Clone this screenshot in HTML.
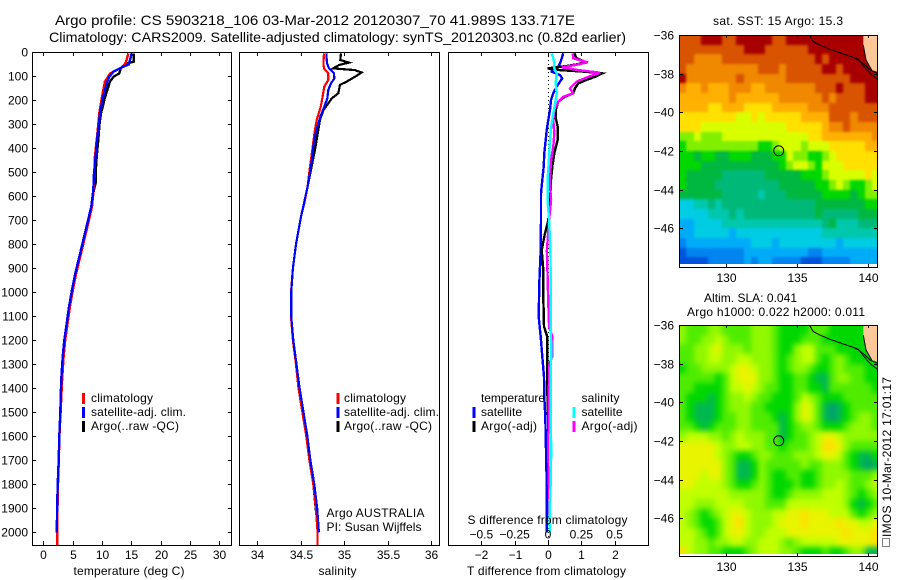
<!DOCTYPE html>
<html lang="en">
<head>
<meta charset="utf-8">
<title>Argo profile CS 5903218_106</title>
<style>
  html, body { margin: 0; padding: 0; background: #fff; }
  svg { display: block; }
  text { font-family: "Liberation Sans", sans-serif; font-size: 12px; fill: #000; }
  .t { font-size: 14px; }
</style>
</head>
<body>
<svg id="fig" xmlns="http://www.w3.org/2000/svg" width="900" height="580" viewBox="0 0 900 580">
  <defs>
    <clipPath id="clipMapA"><rect x="679.5" y="35" width="198" height="232.5"/></clipPath>
    <clipPath id="clipMapB"><rect x="679.5" y="325" width="198" height="232"/></clipPath>
    <clipPath id="clipP1"><rect x="32" y="52" width="200" height="493"/></clipPath>
    <clipPath id="clipP2"><rect x="239" y="52" width="201" height="493"/></clipPath>
    <clipPath id="clipP3"><rect x="448" y="52" width="201" height="493"/></clipPath>
    <filter id="blurSst" filterUnits="userSpaceOnUse" x="650" y="10" width="250" height="280" color-interpolation-filters="sRGB"><feGaussianBlur stdDeviation="1.3"/></filter>
    <filter id="blurSla" filterUnits="userSpaceOnUse" x="650" y="300" width="250" height="280" color-interpolation-filters="sRGB"><feGaussianBlur stdDeviation="3"/></filter>
  </defs>

  <text class="t" x="55" y="25" textLength="520" lengthAdjust="spacingAndGlyphs">Argo profile: CS 5903218_106 03-Mar-2012 20120307_70 41.989S 133.717E</text>
  <text class="t" x="49" y="42" textLength="577" lengthAdjust="spacingAndGlyphs">Climatology: CARS2009. Satellite-adjusted climatology: synTS_20120303.nc (0.82d earlier)</text>

  <g id="mapA" clip-path="url(#clipMapA)"></g>
  <g id="mapB" clip-path="url(#clipMapB)"></g>
  <g id="p1" clip-path="url(#clipP1)"></g>
  <g id="p2" clip-path="url(#clipP2)"></g>
  <g id="p3" clip-path="url(#clipP3)"></g>
  <g id="axes"></g>

  <rect x="32.5" y="52.5" width="199" height="493" fill="none" stroke="#000"/>
  <rect x="239.5" y="52.5" width="200" height="493" fill="none" stroke="#000"/>
  <rect x="448.5" y="52.5" width="200" height="493" fill="none" stroke="#000"/>
  <rect x="679.5" y="35.5" width="198" height="232" fill="none" stroke="#000"/>
  <rect x="679.5" y="325.5" width="198" height="231" fill="none" stroke="#000"/>

  <!-- temperature legend -->
  <rect x="82" y="393" width="3" height="11" fill="#f00"/>
  <rect x="82" y="407" width="3" height="11" fill="#00f"/>
  <rect x="82" y="421" width="3" height="11" fill="#000"/>
  <text x="91" y="402" textLength="62">climatology</text>
  <text x="91" y="416" textLength="95">satellite-adj. clim.</text>
  <text x="91" y="430" textLength="88">Argo(..raw -QC)</text>

  <!-- salinity legend -->
  <rect x="336.5" y="393" width="3" height="11" fill="#f00"/>
  <rect x="336.5" y="407" width="3" height="11" fill="#00f"/>
  <rect x="336.5" y="421" width="3" height="11" fill="#000"/>
  <text x="344" y="402" textLength="62">climatology</text>
  <text x="344" y="416" textLength="95">satellite-adj. clim.</text>
  <text x="344" y="430" textLength="88">Argo(..raw -QC)</text>
  <text x="326.5" y="517" textLength="98">Argo AUSTRALIA</text>
  <text x="326.5" y="531" textLength="95">PI: Susan Wijffels</text>

  <!-- difference legend -->
  <text x="481" y="402" textLength="64">temperature</text>
  <text x="581.5" y="402" textLength="38">salinity</text>
  <rect x="472.5" y="407" width="3" height="11" fill="#00f"/>
  <rect x="472.5" y="421" width="3" height="11" fill="#000"/>
  <rect x="572.5" y="407" width="3" height="11" fill="#0ff"/>
  <rect x="572.5" y="421" width="3" height="11" fill="#f0f"/>
  <text x="481" y="416" textLength="41">satellite</text>
  <text x="481" y="430" textLength="56">Argo(-adj)</text>
  <text x="581.5" y="416" textLength="41">satellite</text>
  <text x="581.5" y="430" textLength="56">Argo(-adj)</text>

  <text x="467.5" y="524" textLength="160">S difference from climatology</text>
  <text x="467" y="575" textLength="159">T difference from climatology</text>
  <text x="129" y="575" text-anchor="middle" textLength="111">temperature (deg C)</text>
  <text x="337.5" y="575" text-anchor="middle" textLength="38">salinity</text>

  <text x="713" y="25" textLength="130">sat. SST: 15 Argo: 15.3</text>
  <text x="704" y="302" textLength="93">Altim. SLA: 0.041</text>
  <text x="687" y="316" textLength="178">Argo h1000: 0.022 h2000: 0.011</text>

  <rect x="882.5" y="538.5" width="7" height="8" fill="none" stroke="#000" stroke-dasharray="1 1"/>
  <text transform="translate(891,537) rotate(-90)" x="0" y="0" textLength="160">IMOS 10-Mar-2012 17:01:17</text>
</svg>

<script>
// ---- Temperature profiles (deg C) ----
const tempClimDepth = [4,32,50,67,88,122,192,253,296,365,435,504,574,643,713,782,852,921,990,1060,1129,1199,1268,1365,1500,1600,1700,1800,1900,2000,2055];
const tempClimValue = [14.5,14.2,13.9,13.1,11.4,10.5,9.95,9.55,9.4,9.1,8.8,8.7,8.55,8.3,7.65,6.97,6.29,5.6,5.04,4.53,4.14,3.73,3.46,3.2,2.95,2.75,2.65,2.5,2.42,2.39,2.39];
const tempSatDepth = [4,50,60,81,102,122,192,253,296,365,435,504,574,643,713,782,852,921,990,1060,1129,1199,1268,1365,1500,1600,1700,1800,1900,2000];
const tempSatValue = [15.06,14.61,13.64,11.94,11.25,10.91,10.12,9.67,9.5,9.15,8.92,8.64,8.52,8.18,7.5,6.82,6.14,5.45,4.89,4.38,3.99,3.58,3.31,3.05,2.9,2.72,2.62,2.45,2.35,2.3];
const tempArgoDepth = [4,39,46,60,67,88,102,122,157,192,227,253,296,365,435,504,546,574,643,713,782,852,921,990,1060,1129,1199,1268,1365,1500,1600,1700,1800,1928];
const tempArgoValue = [15.4,15.4,14.2,13.5,13.2,12.96,11.94,11.37,10.9,10.46,10.12,9.83,9.6,9.38,9.1,8.92,8.92,8.6,8.2,7.52,6.85,6.17,5.48,4.92,4.41,4.02,3.6,3.34,3.08,2.9,2.75,2.62,2.47,2.35];

// ---- Salinity profiles ----
const salClimDepth = [4,46,67,88,115,143,192,227,282,324,365,407,477,560,629,685,800,900,1000,1100,1200,1300,1365,1400,1500,1600,1700,1800,1900,2000,2055];
const salClimValue = [34.768,34.761,34.768,34.818,34.818,34.772,34.749,34.73,34.684,34.664,34.649,34.634,34.607,34.58,34.542,34.503,34.446,34.41,34.388,34.388,34.41,34.446,34.465,34.475,34.52,34.565,34.6,34.645,34.675,34.695,34.695];
const salSatDepth = [4,46,67,88,109,129,157,192,227,261,296,338,393,435,477,560,629,685,800,900,1000,1100,1200,1300,1365,1400,1500,1600,1700,1800,1900,2000];
const salSatValue = [34.795,34.803,34.826,34.884,34.887,34.849,34.818,34.807,34.772,34.734,34.703,34.672,34.645,34.634,34.618,34.58,34.538,34.503,34.446,34.41,34.39,34.39,34.415,34.452,34.475,34.487,34.532,34.577,34.612,34.657,34.69,34.71];
const salArgoDepth = [4,32,43,53,67,74,84,102,122,136,150,171,192,213,240,282,324,365,421,477,560,629,685,800,900,1000,1100,1200,1300,1400,1500,1600,1700,1800,1928];
const salArgoValue = [34.964,34.956,35.056,34.941,34.876,35.125,35.202,35.125,35.03,34.952,34.945,34.933,34.857,34.818,34.761,34.722,34.703,34.684,34.657,34.626,34.58,34.538,34.503,34.446,34.41,34.388,34.388,34.41,34.446,34.475,34.52,34.565,34.6,34.645,34.68];

// ---- Differences from climatology ----
const diffTSatDepth = [4,25,46,60,74,81,95,109,122,143,171,199,240,282,324,365,421,477,532,588,699,824,963,1102,1185,1268,1352,1435,1518,1657,1796,1866,2000];
const diffTSatValue = [0.46,0.41,0.36,0.31,0.11,0.11,0.36,0.43,0.36,0.26,0.16,0.09,0.06,0.01,-0.04,-0.07,-0.11,-0.13,-0.17,-0.21,-0.21,-0.22,-0.26,-0.28,-0.22,-0.17,-0.12,-0.11,-0.08,-0.06,-0.04,-0.04,-0.04];
const diffTArgoDepth = [4,25,39,49,57,67,74,81,88,102,115,129,150,171,185,206,240,275,310,365,421,477,532,629,699,760,824,907,1018,1143,1185,1310,1407,1518,1650];
const diffTArgoValue = [0.79,0.86,1.11,0.91,0.56,-0.01,0.36,1.11,1.63,1.41,1.16,0.91,0.81,0.76,0.51,0.31,0.23,0.23,0.29,0.29,0.19,0.13,0.09,0.06,0.01,-0.1,-0.19,-0.14,-0.14,-0.12,-0.02,-0.02,-0.02,0,0];
const diffSArgoDepth = [4,25,42,53,63,74,85,102,122,150,171,185,206,240,282,338,393,449,532,616,699,824,1046,1143,1185,1268,1300,1500,1700,1866,1930];
const diffSArgoValue = [0.185,0.19,0.298,0.203,0.103,0.228,0.39,0.303,0.215,0.165,0.19,0.115,0.078,0.047,0.04,0.047,0.04,0.023,0.013,0.023,0.008,-0.008,0.002,0.008,0.032,0.032,0.01,0.004,0.003,0.01,0.01];
const diffSSatDepth = [4,25,46,67,88,129,171,213,254,310,365,435,532,616,699,824,963,1102,1240,1380,1518,1657,1796,1866,2000];
const diffSSatValue = [0.028,0.04,0.047,0.047,0.065,0.058,0.065,0.053,0.04,0.023,0.015,0.008,-0.003,-0.003,0.008,0.018,0.02,0.02,0.024,0.02,0.02,0.024,0.02,0.014,0.012];

// ---- Tick labels ----
const depthTicks = [0,100,200,300,400,500,600,700,800,900,1000,1100,1200,1300,1400,1500,1600,1700,1800,1900,2000];
const tempTicks = [0,5,10,15,20,25,30];
const salTicks = [34,34.5,35,35.5,36];
const diffTTicks = [-2,-1,0,1,2];
const diffSTicks = [-0.5,-0.25,0,0.25,0.5];
const mapLatTicks = [-36,-38,-40,-42,-44,-46];
const mapLonTicks = [130,135,140];

// ---- Float position, coast, land ----
const floatLon = 133.717;
const floatLat = -41.989;
const coastLonA = [135.86,136.14,136.61,137.31,138.13,138.95,139.3,139.77,140.12,140.63];
const coastLatA = [-36,-36.34,-36.52,-36.74,-36.95,-37.16,-37.29,-37.55,-37.81,-37.98];
const coastLonB = [138.95,139.3,139.9,140.24,140.63];
const coastLatB = [-37.16,-37.25,-37.81,-38.07,-38.28];
const landLon = [139.65,140.8,140.8,140.24,139.84,139.65];
const landLat = [-36,-36,-37.93,-37.81,-37.29,-36.52];

// ---- Map grid: 0.5 degree cells starting at 126.75E, 36S ----
const gridLon0 = 126.75;
const gridLat0 = -36;
const gridStep = 0.5;
const sstLevels = [
[13,13,13,14,14,14,13,13,14,14,14,14,14,13,13,14,14,14,14,14,14,14,14,14,14,14,14,14],
[13,13,13,13,13,13,13,13,13,14,14,14,13,13,13,13,13,13,14,14,14,14,14,14,14,14,14,14],
[13,13,12,12,12,12,13,13,13,13,13,13,13,13,13,13,13,13,13,14,13,14,14,14,14,14,14,14],
[13,12,12,12,12,12,12,12,12,12,12,13,13,13,12,13,13,13,13,13,14,14,13,14,14,14,14,14],
[14,12,12,12,12,12,12,12,13,12,12,12,12,12,12,13,13,13,13,13,13,13,13,13,14,14,14,14],
[12,11,11,12,11,11,11,12,12,12,11,11,12,12,12,12,12,12,12,13,13,13,14,13,13,13,14,14],
[11,11,11,11,11,11,11,12,11,11,11,11,11,11,12,12,12,12,12,12,13,12,13,13,13,13,14,14],
[11,11,11,11,10,10,11,11,11,10,10,10,10,11,11,11,11,11,12,12,12,13,13,13,13,13,13,13],
[10,10,10,10,10,10,10,10,9,9,10,9,10,10,10,10,10,11,11,11,11,13,13,13,12,13,13,13],
[10,10,10,9,9,9,9,9,9,9,9,9,9,9,9,10,10,10,10,10,11,12,12,13,12,12,12,12],
[8,8,9,8,8,8,9,9,9,9,9,9,9,9,9,9,9,9,10,10,11,11,11,11,11,11,11,12],
[7,8,8,8,8,8,8,8,8,8,8,7,7,8,9,9,9,8,9,9,9,10,10,10,10,10,11,11],
[7,7,6,7,7,6,6,7,7,7,6,6,6,7,7,9,8,8,7,7,8,9,10,10,10,10,10,10],
[7,7,7,6,6,6,6,6,6,6,6,6,6,6,7,8,9,9,8,7,9,9,9,10,10,10,10,10],
[7,6,6,6,6,6,5,5,5,5,5,5,6,6,6,6,6,7,7,7,8,9,9,9,9,9,10,9],
[7,6,6,6,6,5,5,5,5,5,5,5,5,5,6,6,6,6,6,7,7,8,9,8,7,7,8,9],
[6,6,6,6,6,6,5,5,5,5,5,4,5,5,5,6,6,6,6,6,7,7,7,7,6,7,8,8],
[3,3,4,4,5,4,5,5,5,5,5,5,5,5,5,5,5,5,5,6,6,6,6,6,6,6,7,7],
[3,3,3,3,4,4,4,5,4,5,5,5,5,5,5,5,5,5,5,6,5,5,5,5,5,6,6,6],
[2,2,3,3,3,3,4,4,4,4,4,4,4,4,4,4,4,4,4,4,5,6,4,4,4,5,5,5],
[2,2,3,3,3,3,3,2,3,3,3,3,3,3,3,3,3,3,3,3,4,4,4,4,4,4,4,4],
[1,2,2,2,2,2,2,2,2,2,3,3,3,2,3,3,3,3,3,3,3,3,2,3,3,3,3,3],
[0,1,1,1,1,1,1,1,1,2,2,2,2,2,2,2,2,2,1,1,2,2,2,2,2,2,2,2],
[0,0,0,0,1,1,1,1,1,2,1,2,2,1,1,1,1,0,0,0,1,1,1,1,2,2,2,2]
];
const slaLevels = [
[4,3,3,3,4,4,3,3,3,3,4,4,4,3,2,2,2,2,3,3,3,2,2,2,2,2,2,2],
[4,3,3,4,4,5,4,3,3,3,4,4,4,3,2,2,2,3,3,3,2,2,2,2,2,2,2,2],
[3,3,4,4,5,6,4,4,4,3,4,4,4,3,2,2,4,5,5,3,3,3,2,2,2,2,2,2],
[3,3,4,4,5,5,4,4,5,5,4,4,4,3,2,3,4,5,5,3,2,3,4,3,2,2,2,2],
[2,3,3,4,4,4,4,5,6,6,5,4,4,3,2,3,4,4,3,2,2,3,4,3,3,3,2,2],
[3,3,3,3,3,2,3,5,6,6,6,4,4,3,2,2,3,3,2,1,1,3,4,4,3,3,2,2],
[3,3,2,2,2,2,3,5,5,6,5,4,3,3,2,2,3,3,2,2,1,3,3,3,3,3,3,2],
[3,2,2,2,1,2,3,4,4,5,4,3,3,2,2,2,3,5,4,3,2,2,2,3,3,3,3,3],
[3,2,1,1,1,2,3,4,4,4,3,3,2,2,2,2,4,6,5,3,1,0,1,2,3,3,3,3],
[3,2,1,1,1,2,3,3,4,4,3,3,3,2,1,2,4,6,5,3,1,0,1,2,3,4,4,3],
[3,3,2,1,2,3,3,3,4,4,3,3,3,3,1,2,3,4,4,3,2,2,2,3,4,4,4,3],
[4,5,5,5,4,4,3,4,5,4,4,4,3,3,1,2,3,3,4,5,6,6,5,4,4,4,4,4],
[6,6,6,6,6,5,4,4,5,5,4,4,3,3,2,3,3,3,4,5,7,7,6,4,3,3,3,3],
[6,6,6,6,6,5,4,3,2,2,3,4,4,3,3,3,4,4,4,5,6,6,5,3,2,1,1,2],
[6,6,6,6,6,6,4,3,1,1,2,4,3,3,3,3,3,4,3,3,4,4,4,3,2,1,0,1],
[6,6,6,5,6,6,4,3,1,1,2,4,3,2,2,3,3,2,2,3,4,4,4,4,3,3,3,4],
[6,6,5,5,5,5,4,3,2,2,3,4,3,2,2,2,3,2,2,3,4,4,5,4,3,3,4,5],
[5,5,5,5,5,5,5,4,4,4,4,4,3,2,2,3,4,4,4,4,5,5,5,4,3,2,3,4],
[5,5,4,4,4,5,5,5,5,4,4,4,3,3,3,5,5,5,5,5,5,5,5,4,2,1,2,3],
[5,4,3,2,3,4,5,6,6,5,4,4,4,5,5,6,6,7,6,6,6,5,5,5,3,2,3,4],
[5,4,3,2,2,3,5,6,7,5,4,4,4,5,6,6,6,7,6,6,6,6,7,6,6,5,5,6],
[5,5,4,3,2,3,5,6,6,5,4,4,5,5,5,6,6,6,6,6,6,6,6,7,6,6,6,7],
[5,5,4,4,3,4,4,5,5,4,4,5,5,5,4,3,4,5,5,5,5,5,6,6,6,6,6,7],
[7,5,4,4,3,3,2,2,2,3,4,5,5,5,4,4,3,2,2,2,3,2,2,3,4,4,1,1]
];
const sstPalette = ['#0054dc','#0084f0','#00acf8','#00cce4','#00c8ac','#00b878','#00b840','#00d800','#80f000','#d8ff00','#ffe000','#ffb000','#f08800','#d85400','#a80000'];
const slaPalette = ['#00a070','#00b850','#00d800','#50ec00','#90f800','#c0ff00','#e8f400','#ffe000'];

// ---- Axis functions ----
const yDepth = d => 52.3 + 0.24 * d;
const xTemp = v => 43.3 + 5.867 * v;
const xSal = v => 257.3 + 86.8 * (v - 34);
const xDiffT = v => 548 + 33.3 * v;
const xDiffS = v => 548 + 133.3 * v;
const lonX = lon => 725.7 + 14.26 * (lon - 130);
const latY = (lat, top) => top + 19.33 * (-36 - lat);

const NS = 'http://www.w3.org/2000/svg';
const byId = id => document.getElementById(id);
function make(tag, parent) {
  const e = document.createElementNS(NS, tag);
  parent.appendChild(e);
  return e;
}

function drawProfile(parent, name, depths, values, xFn, color, width) {
  const line = make('polyline', parent);
  
  
  line.setAttribute('points', depths.map((d, i) => xFn(values[i]).toFixed(1) + ',' + yDepth(d).toFixed(1)).join(' '));
  line.setAttribute('fill', 'none');
  line.setAttribute('stroke', color);
  line.setAttribute('stroke-width', width);
  line.setAttribute('shape-rendering', 'crispEdges');
}

const p1 = byId('p1');
drawProfile(p1, 'temperature-argo-line', tempArgoDepth, tempArgoValue, xTemp, '#000', 2.4);
drawProfile(p1, 'temperature-climatology-line', tempClimDepth, tempClimValue, xTemp, '#f00', 2.4);
drawProfile(p1, 'temperature-satellite-line', tempSatDepth, tempSatValue, xTemp, '#00f', 2.4);

const p2 = byId('p2');
drawProfile(p2, 'salinity-argo-line', salArgoDepth, salArgoValue, xSal, '#000', 2.2);
drawProfile(p2, 'salinity-climatology-line', salClimDepth, salClimValue, xSal, '#f00', 2.2);
drawProfile(p2, 'salinity-satellite-line', salSatDepth, salSatValue, xSal, '#00f', 2.2);

const p3 = byId('p3');
const zeroLine = make('line', p3);


zeroLine.setAttribute('x1', xDiffT(0) + 0.5);
zeroLine.setAttribute('x2', xDiffT(0) + 0.5);
zeroLine.setAttribute('y1', 52);
zeroLine.setAttribute('y2', 545);
zeroLine.setAttribute('stroke', '#000');
zeroLine.setAttribute('stroke-dasharray', '1 3');
drawProfile(p3, 'difference-t-satellite-line', diffTSatDepth, diffTSatValue, xDiffT, '#00f', 2.4);
drawProfile(p3, 'difference-t-argo-line', diffTArgoDepth, diffTArgoValue, xDiffT, '#000', 2.4);
drawProfile(p3, 'difference-s-argo-line', diffSArgoDepth, diffSArgoValue, xDiffS, '#f0f', 2.4);
drawProfile(p3, 'difference-s-satellite-line', diffSSatDepth, diffSSatValue, xDiffS, '#0ff', 2.4);

// ---- Axes ----
const axes = byId('axes');
function tick(x1, y1, x2, y2) {
  const t = make('line', axes);
  
  
  t.setAttribute('x1', x1);
  t.setAttribute('y1', y1);
  t.setAttribute('x2', x2);
  t.setAttribute('y2', y2);
  t.setAttribute('stroke', '#000');
  t.setAttribute('shape-rendering', 'crispEdges');
}
function label(str, x, y, anchor) {
  const t = make('text', axes);
  
  
  t.setAttribute('x', x);
  t.setAttribute('y', y);
  t.setAttribute('text-anchor', anchor);
  t.textContent = String(str).replace('-', '\u2212');
}
depthTicks.forEach(d => {
  const y = Math.round(yDepth(d)) + 0.5;
  tick(32, y, 36, y);
  tick(232, y, 228, y);
  label(d, 28, y + 4, 'end');
});
function xTicks(values, fn, labelY) {
  values.forEach(v => {
    const x = Math.round(fn(v)) + 0.5;
    tick(x, 52, x, 56);
    tick(x, 545, x, 541);
    if (labelY) label(v, x, labelY, 'middle');
  });
}
xTicks(tempTicks, xTemp, 559);
xTicks(salTicks, xSal, 559);
xTicks(diffTTicks, xDiffT, 559);
diffSTicks.forEach(v => label(v, xDiffS(v), 538.5, 'middle'));

// ---- Maps ----
function drawMap(groupId, levels, palette, top, prefix, filterId) {
  const g = byId(groupId);
  const cells = make('g', g);
  
  
  cells.setAttribute('filter', 'url(#' + filterId + ')');
  const lastRow = levels.length - 1;
  levels.forEach((row, r) => {
    row.forEach((level, c) => {
      const lonL = gridLon0 + c * gridStep;
      const latT = gridLat0 - r * gridStep;
      let x1 = Math.round(lonX(lonL));
      let x2 = Math.round(lonX(lonL + gridStep));
      let y1 = Math.round(latY(latT, top));
      let y2 = Math.round(latY(Math.max(latT - gridStep, -47.85), top));
      // outer cells run past the frame so that the smoothing does not fade at the edges
      if (c === 0) x1 -= 14;
      if (c === row.length - 1) x2 += 14;
      if (r === 0) y1 -= 14;
      if (r === lastRow) y2 += 14;
      const cell = make('rect', cells);
      
      
      cell.setAttribute('x', x1);
      cell.setAttribute('y', y1);
      cell.setAttribute('width', x2 - x1);
      cell.setAttribute('height', y2 - y1);
      cell.setAttribute('fill', palette[level]);
      cell.setAttribute('shape-rendering', 'crispEdges');
    });
  });
  const strip = make('rect', g);
  
  
  strip.setAttribute('x', 679);
  strip.setAttribute('y', Math.round(latY(-47.85, top)));
  strip.setAttribute('width', 200);
  strip.setAttribute('height', 6);
  strip.setAttribute('fill', '#fff');
  const land = make('polygon', g);
  
  
  land.setAttribute('points', landLon.map((lon, i) => lonX(lon).toFixed(1) + ',' + latY(landLat[i], top).toFixed(1)).join(' '));
  land.setAttribute('fill', '#ffc898');
  [[coastLonA, coastLatA], [coastLonB, coastLatB], [landLon.slice(3).reverse(), landLat.slice(3).reverse()]].forEach(pair => {
    const coast = make('polyline', g);
    
    
    coast.setAttribute('points', pair[0].map((lon, i) => lonX(lon).toFixed(1) + ',' + latY(pair[1][i], top).toFixed(1)).join(' '));
    coast.setAttribute('fill', 'none');
    coast.setAttribute('stroke', '#000');
    coast.setAttribute('stroke-width', 1);
  });
  const marker = make('circle', g);
  
  
  marker.setAttribute('cx', lonX(floatLon));
  marker.setAttribute('cy', latY(floatLat, top));
  marker.setAttribute('r', 5);
  marker.setAttribute('fill', 'none');
  marker.setAttribute('stroke', '#000');
  marker.setAttribute('stroke-width', 1);

  const bottom = top === 35 ? 267 : 556;
  mapLatTicks.forEach(lat => {
    const y = Math.round(latY(lat, top)) + 0.5;
    tick(680, y, 683, y);
    tick(877, y, 874, y);
    label(lat, 674, y + 4, 'end');
  });
  mapLonTicks.forEach(lon => {
    const x = Math.round(lonX(lon)) + 0.5;
    tick(x, top, x, top + 3);
    tick(x, bottom, x, bottom - 3);
    label(lon, x, bottom + 15, 'middle');
  });
}
drawMap('mapA', sstLevels, sstPalette, 35, 'sst', 'blurSst');
drawMap('mapB', slaLevels, slaPalette, 325, 'sla', 'blurSla');
</script>
</body>
</html>
